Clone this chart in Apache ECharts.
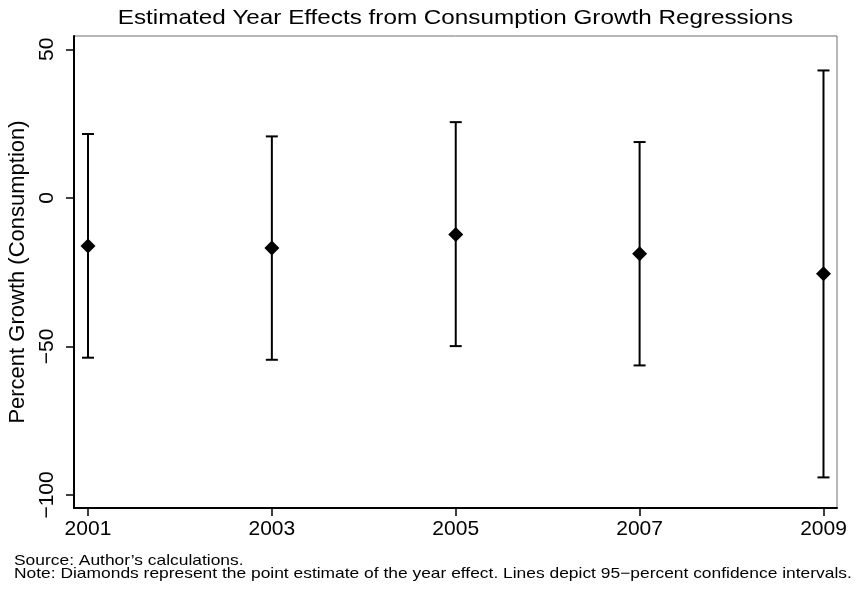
<!DOCTYPE html>
<html>
<head>
<meta charset="utf-8">
<script src="https://cdn.jsdelivr.net/npm/echarts@6/dist/echarts.min.js"></script>
<style>
html,body{margin:0;padding:0;background:#fff;}
#chart{width:860px;height:591px;}
</style>
</head>
<body>
<div id="chart"></div>
<script>
const years = [2001, 2003, 2005, 2007, 2009];
const estimates = [-16.2, -16.9, -12.3, -18.8, -25.5];
const lowerCI = [-53.8, -54.5, -49.9, -56.4, -94.1];
const upperCI = [21.5, 20.7, 25.5, 18.8, 42.9];
const yTicks = [-100, -50, 0, 50];
const xTicks = [2001, 2003, 2005, 2007, 2009];

const FONT = '"Liberation Sans", Arial, sans-serif';
const chart = echarts.init(document.getElementById('chart'), null, {renderer: 'canvas'});

const ciData = years.map((y, i) => [y, lowerCI[i], upperCI[i]]);
const estData = years.map((y, i) => [y, estimates[i]]);

chart.setOption({
  animation: false,
  backgroundColor: '#fff',
  grid: {
    left: 74, right: 23, top: 36, bottom: 83,
    outerBoundsMode: 'none', containLabel: false,
    show: true, borderColor: '#6e6e6e', borderWidth: 1, backgroundColor: '#fff'
  },
  xAxis: {
    type: 'value', min: 2000.848, max: 2009.147,
    splitLine: {show: false},
    axisLine: {show: true, onZero: false, lineStyle: {color: '#000', width: 2}},
    axisTick: {show: true, length: 8, lineStyle: {color: '#000', width: 1.5}, customValues: xTicks},
    axisLabel: {customValues: xTicks, fontFamily: FONT, fontSize: 21, color: '#000', margin: 11,
      formatter: v => String(v)}
  },
  yAxis: {
    type: 'value', min: -104.4, max: 54.5,
    name: 'Percent Growth (Consumption)', nameLocation: 'middle', nameGap: 44,
    nameTextStyle: {fontFamily: FONT, fontSize: 22, color: '#000'},
    splitLine: {show: false},
    axisLine: {show: true, onZero: false, lineStyle: {color: '#000', width: 2}},
    axisTick: {show: true, length: 8, lineStyle: {color: '#000', width: 1.5}, customValues: yTicks},
    axisLabel: {customValues: yTicks, rotate: 90, fontFamily: FONT, fontSize: 21, color: '#000', margin: 16,
      formatter: v => String(v).replace('-', '\u2212')}
  },
  series: [
    {
      type: 'custom',
      data: ciData,
      encode: {x: 0, y: [1, 2]},
      renderItem: function (params, api) {
        const x = api.value(0);
        const lo = api.coord([x, api.value(1)]);
        const hi = api.coord([x, api.value(2)]);
        const cw = 6;
        const style = {stroke: '#000', lineWidth: 2};
        return {
          type: 'group',
          children: [
            {type: 'line', shape: {x1: lo[0], y1: lo[1], x2: hi[0], y2: hi[1]}, style: style},
            {type: 'line', shape: {x1: lo[0] - cw, y1: lo[1], x2: lo[0] + cw, y2: lo[1]}, style: style},
            {type: 'line', shape: {x1: hi[0] - cw, y1: hi[1], x2: hi[0] + cw, y2: hi[1]}, style: style}
          ]
        };
      },
      z: 2
    },
    {
      type: 'scatter',
      data: estData,
      symbol: 'diamond',
      symbolSize: [15, 15],
      itemStyle: {color: '#000', opacity: 1},
      z: 3
    }
  ],
  graphic: [
    {type: 'text', x: 455.5, y: 18, scaleX: 1.155, scaleY: 1,
      style: {text: 'Estimated Year Effects from Consumption Growth Regressions', font: '21px ' + FONT,
        fill: '#000', align: 'center', verticalAlign: 'middle'}},
    {type: 'text', x: 14, y: 561, scaleX: 1.16,
      style: {text: 'Source: Author\u2019s calculations.', font: '15px ' + FONT, fill: '#000', verticalAlign: 'middle'}},
    {type: 'text', x: 14, y: 574, scaleX: 1.16,
      style: {text: 'Note: Diamonds represent the point estimate of the year effect. Lines depict 95\u2212percent confidence intervals.', font: '15px ' + FONT, fill: '#000', verticalAlign: 'middle'}}
  ]
});
</script>
</body>
</html>
